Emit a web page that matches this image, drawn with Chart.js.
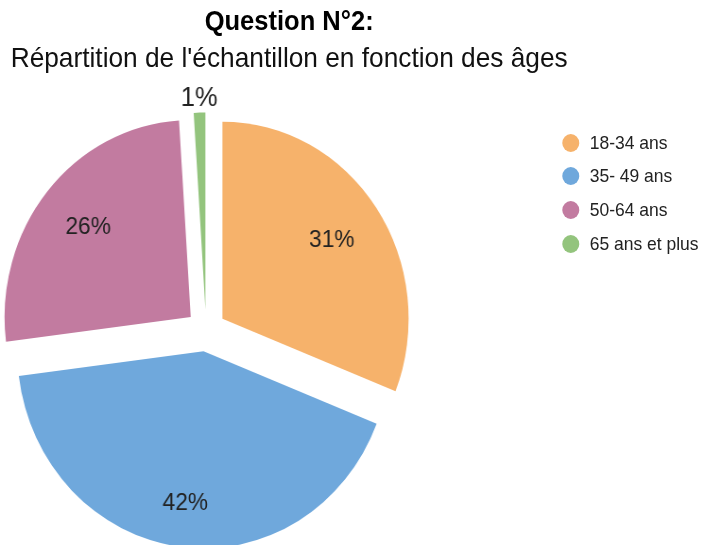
<!DOCTYPE html>
<html lang="fr">
<head>
<meta charset="utf-8">
<title>Question N°2</title>
<script src="https://cdn.jsdelivr.net/npm/chart.js@4/dist/chart.umd.min.js"></script>
<style>
  html, body { margin: 0; padding: 0; background: #fff; overflow: hidden; }
  body { font-family: Arial, "Liberation Sans", sans-serif; }
  /* the reference is slightly squeezed horizontally */
  #wrap {
    position: relative;
    width: 743px;
    height: 545px;
    transform: scaleX(0.945);
    transform-origin: 0 0;
  }
  .title, .subtitle {
    position: absolute;
    left: 0;
    width: 612px;
    text-align: center;
    color: #000;
    white-space: nowrap;
  }
  .title { top: 8px; font-size: 27px; line-height: 27px; font-weight: bold; }
  .subtitle { top: 44px; font-size: 27.8px; line-height: 28px; color: #111; }
  #pie-box { position: absolute; left: 0; top: 0; width: 436px; height: 545px; }
  #legend {
    position: absolute;
    left: 595px;
    top: 126px;
    margin: 0;
    padding: 0;
    list-style: none;
  }
  #legend li {
    display: flex;
    align-items: center;
    height: 33.6px;
    font-size: 18.5px;
    color: #222;
    white-space: nowrap;
  }
  #legend .dot {
    width: 18px;
    height: 18px;
    border-radius: 50%;
    margin-right: 11px;
    flex: none;
  }
</style>
</head>
<body>
<div id="wrap">
  <div class="title">Question N°2:</div>
  <div class="subtitle">Répartition de l'échantillon en fonction des âges</div>
  <div id="pie-box"><canvas id="age-pie"></canvas></div>
  <ul id="legend"></ul>
</div>

<script>
const categories = ['18-34 ans', '35- 49 ans', '50-64 ans', '65 ans et plus'];
const shares = [31, 42, 26, 1];
const sliceColors = ['#f6b26b', '#6fa8dc', '#c27ba0', '#93c47d'];

// how far each slice is pulled out, and where its label sits (share of radius)
const explodeShift = 21;
const labelRadius = [0.71, 0.78, 0.715, 1.07];
const labelSize = [24, 24, 24, 27];

const total = shares.reduce((a, b) => a + b, 0);

// draw every arc moved out along its middle angle
const explodePlugin = {
  id: 'explode',
  beforeDatasetDraw(chart, args) {
    const ctx = chart.ctx;
    args.meta.data.forEach(arc => {
      const mid = (arc.startAngle + arc.endAngle) / 2;
      ctx.save();
      ctx.translate(Math.cos(mid) * explodeShift, Math.sin(mid) * explodeShift);
      arc.draw(ctx);
      ctx.restore();
    });
    return false;
  },
  afterDatasetsDraw(chart) {
    const ctx = chart.ctx;
    const meta = chart.getDatasetMeta(0);
    ctx.save();
    ctx.textAlign = 'center';
    ctx.textBaseline = 'middle';
    ctx.fillStyle = '#222';
    meta.data.forEach((arc, i) => {
      const mid = (arc.startAngle + arc.endAngle) / 2;
      const dist = explodeShift + arc.outerRadius * labelRadius[i];
      const x = arc.x + Math.cos(mid) * dist;
      const y = arc.y + Math.sin(mid) * dist;
      ctx.font = labelSize[i] + 'px Arial, "Liberation Sans", sans-serif';
      ctx.fillText(Math.round(shares[i] / total * 100) + '%', x, y);
    });
    ctx.restore();
  }
};

const pieChart = new Chart(document.querySelector('#age-pie'), {
  type: 'pie',
  data: {
    labels: categories,
    datasets: [{
      data: shares,
      backgroundColor: sliceColors,
      borderWidth: 0,
      radius: 197
    }]
  },
  options: {
    responsive: true,
    maintainAspectRatio: false,
    animation: false,
    layout: {
      padding: { top: 116, bottom: 0, left: 0, right: 0 }
    },
    plugins: {
      legend: { display: false },
      tooltip: { enabled: false }
    }
  },
  plugins: [explodePlugin]
});

// legend built from the chart's own labels and colours
const legendList = document.querySelector('#legend');
pieChart.data.labels.forEach((label, i) => {
  const li = document.createElement('li');
  const dot = document.createElement('span');
  dot.className = 'dot';
  dot.style.background = pieChart.data.datasets[0].backgroundColor[i];
  li.appendChild(dot);
  li.appendChild(document.createTextNode(label));
  legendList.appendChild(li);
});
</script>
</body>
</html>
